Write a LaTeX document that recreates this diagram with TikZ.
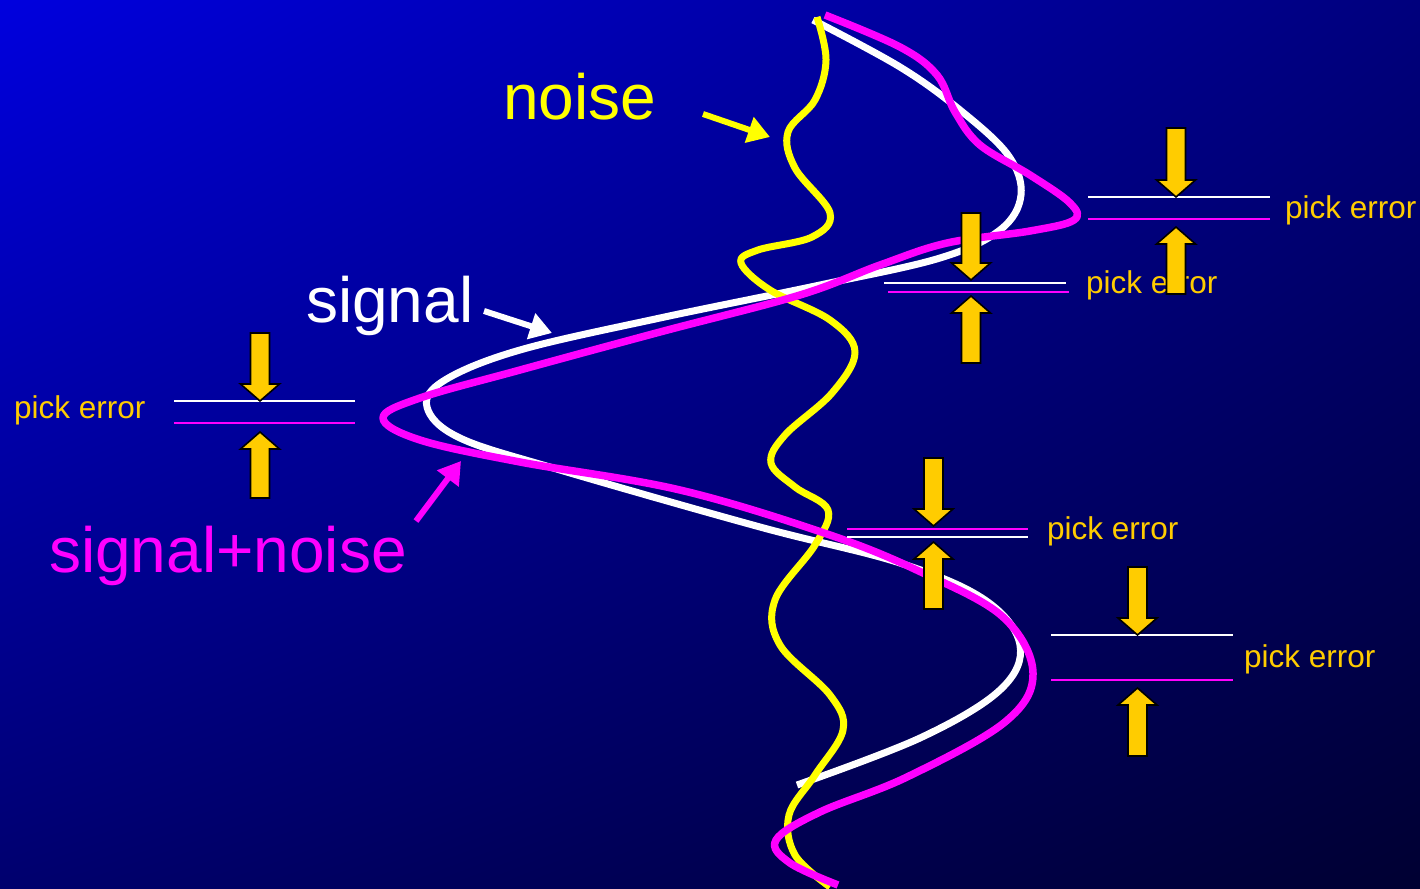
\documentclass[tikz,border=0pt]{standalone}
\usepackage{fontspec}
\setmainfont{Liberation Sans}
\usetikzlibrary{arrows.meta,shadings}
\definecolor{gold}{HTML}{FFCC00}
\definecolor{mag}{HTML}{FF00FF}
\definecolor{yel}{HTML}{FFFF00}
\definecolor{bgUL}{RGB}{0,0,222}
\definecolor{bgUR}{RGB}{0,0,125}
\definecolor{bgLL}{RGB}{0,0,110}
\definecolor{bgLR}{RGB}{0,0,50}
\tikzset{
  curve/.style={line width=7pt, smooth, tension=0.6, line cap=butt, line join=round},
  thinline/.style={line width=2pt},
  blockarrow/.style={fill=gold, draw=black, line width=1.6pt, line join=miter},
  bigtext/.style={font=\fontsize{64}{76}\selectfont, anchor=base west, inner sep=0pt},
  picktext/.style={font=\fontsize{31.5}{37}\selectfont, text=gold, anchor=base west, inner sep=0pt},
  labelarrow/.style={line width=6pt, -{Triangle[length=22pt,width=26pt]}}
}
\newcommand{\pedown}[3]{% cx, top, tip
  \path[blockarrow] (#1-9.5,#2) -- (#1+9.5,#2) -- (#1+9.5,#3-17) -- (#1+19.5,#3-17) -- (#1,#3) -- (#1-19.5,#3-17) -- (#1-9.5,#3-17) -- cycle;}
\newcommand{\peup}[3]{% cx, tip, bottom
  \path[blockarrow] (#1,#2) -- (#1+19.5,#2+17) -- (#1+9.5,#2+17) -- (#1+9.5,#3) -- (#1-9.5,#3) -- (#1-9.5,#2+17) -- (#1-19.5,#2+17) -- cycle;}
\begin{document}
\begin{tikzpicture}[x=1pt,y=-1pt]
\shade[upper left=bgUL, upper right=bgUR, lower left=bgLL, lower right=bgLR] (0,0) rectangle (1420,888);
\useasboundingbox (0,0) rectangle (1420,888);

% signal (white)
\draw[curve, white] plot coordinates {(813,20) (900,67) (960,110) (1008,155) (1021,195) (1000,230) (940,258) (820,285) (660,318) (520,350) (445,380) (427,407) (460,438) (560,470) (760,527) (900,563) (985,600) (1020,645) (1000,690) (920,738) (797,785)};

% noise (yellow)
\draw[curve, yel] plot coordinates {(817,17) (826,60) (815,100) (788,132) (795,168) (830,213) (812,237) (758,250) (741,263) (770,290) (830,320) (855,352) (832,393) (785,435) (771,463) (795,487) (828,510) (815,545) (775,600) (780,645) (830,695) (843,730) (815,775) (789,815) (795,855) (830,887)};

% signal+noise (magenta)
\draw[curve, mag, line width=7.5pt] plot coordinates {(825,15) (900,47) (937,75) (955,112) (980,145) (1030,175) (1070,203) (1074,220) (1030,231) (947,243) (880,265) (800,295) (660,332) (520,370) (420,398) (383,418) (420,440) (520,462) (680,490) (830,535) (923,573) (1003,617) (1033,673) (1005,722) (907,777) (820,812) (776,840) (790,863) (838,885)};

% pick error lines
\draw[thinline, white] (174,401) -- (355,401);
\draw[thinline, mag] (174,423) -- (355,423);
\draw[thinline, white] (1088,197) -- (1270,197);
\draw[thinline, mag] (1088,219) -- (1270,219);
\draw[thinline, white] (884,283) -- (1066,283);
\draw[thinline, mag] (888,292) -- (1069,292);
\draw[thinline, mag] (847,529) -- (1028,529);
\draw[thinline, white] (847,537) -- (1028,537);
\draw[thinline, white] (1051,635) -- (1233,635);
\draw[thinline, mag] (1051,680) -- (1233,680);

% pick error texts
\node[picktext] (pe1) at (14,418) {pick error};
\node[picktext] (pe2) at (1285,218) {pick error};
\node[picktext] (pe3) at (1086,293) {pick error};
\node[picktext] (pe4) at (1047,539) {pick error};
\node[picktext] (pe5) at (1244,667) {pick error};

% block arrows
\pedown{260}{333}{401}
\peup{260}{432}{498}
\pedown{1176}{128}{197}
\peup{1176}{227}{294}
\pedown{971}{213}{280}
\peup{971}{296}{363}
\pedown{933.5}{458}{526}
\peup{933.5}{542}{609}
\pedown{1137.5}{567}{635}
\peup{1137.5}{688}{756}

% labels
\node[bigtext, text=yel] (noiselbl) at (503,120) {noise};
\node[bigtext, text=white] (signallbl) at (306,322) {signal};
\node[bigtext, text=mag] (snlbl) at (49,572) {signal+noise};

% label arrows
\coordinate (nT) at (703,114);
\coordinate (nH) at (770,137);
\coordinate (sT) at (484,311);
\coordinate (sH) at (552,333);
\coordinate (mT) at (416,521);
\coordinate (mH) at (461,461);
\draw[labelarrow, yel] (nT) -- (nH);
\draw[labelarrow, white] (sT) -- (sH);
\draw[labelarrow, mag] (mT) -- (mH);
\end{tikzpicture}
\end{document}
